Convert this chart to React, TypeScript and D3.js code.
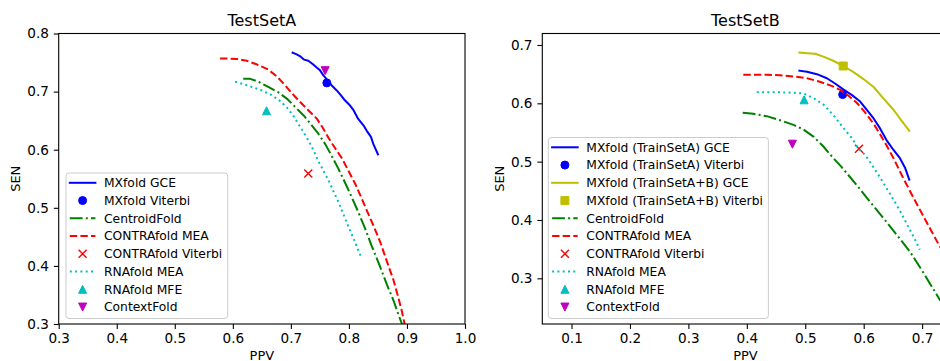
import React, { useEffect, useRef } from 'react';
import * as d3 from 'd3';

type Pt = [number, number];

// ---- TestSetA (PPV, SEN) ----
const aMxfoldGce: Pt[] = [
  [0.703, 0.767], [0.710, 0.764], [0.717, 0.760], [0.723, 0.755], [0.730, 0.753],
  [0.738, 0.747], [0.745, 0.741], [0.750, 0.737], [0.756, 0.728], [0.762, 0.721],
  [0.770, 0.711], [0.779, 0.702], [0.786, 0.694], [0.793, 0.685], [0.802, 0.676],
  [0.808, 0.668], [0.816, 0.653], [0.825, 0.642], [0.831, 0.632], [0.838, 0.622],
  [0.842, 0.610], [0.850, 0.592],
];
const aMxfoldViterbi: Pt[] = [[0.762, 0.715]];
const aCentroidFold: Pt[] = [
  [0.618, 0.722], [0.630, 0.722], [0.644, 0.717], [0.661, 0.708], [0.678, 0.699],
  [0.693, 0.688], [0.707, 0.674], [0.722, 0.659], [0.736, 0.642], [0.747, 0.628],
  [0.759, 0.610], [0.770, 0.590], [0.782, 0.567], [0.793, 0.544], [0.805, 0.518],
  [0.816, 0.493], [0.828, 0.464], [0.839, 0.435], [0.854, 0.398], [0.865, 0.369],
  [0.877, 0.340], [0.885, 0.317], [0.891, 0.301], [0.893, 0.295],
];
const aContraMea: Pt[] = [
  [0.578, 0.757], [0.589, 0.757], [0.607, 0.756], [0.624, 0.753], [0.641, 0.747],
  [0.661, 0.738], [0.676, 0.726], [0.690, 0.711], [0.701, 0.698], [0.716, 0.682],
  [0.730, 0.668], [0.745, 0.653], [0.756, 0.636], [0.765, 0.620], [0.776, 0.603],
  [0.788, 0.585], [0.799, 0.564], [0.811, 0.541], [0.822, 0.516], [0.831, 0.495],
  [0.842, 0.470], [0.854, 0.441], [0.865, 0.409], [0.877, 0.375], [0.885, 0.346],
  [0.891, 0.323], [0.896, 0.300], [0.898, 0.294],
];
const aContraViterbi: Pt[] = [[0.730, 0.559]];
const aRnafoldMea: Pt[] = [
  [0.604, 0.717], [0.618, 0.713], [0.633, 0.708], [0.650, 0.702], [0.667, 0.694],
  [0.681, 0.684], [0.693, 0.673], [0.704, 0.659], [0.713, 0.644], [0.722, 0.630],
  [0.730, 0.616], [0.739, 0.599], [0.747, 0.581], [0.756, 0.564], [0.765, 0.547],
  [0.773, 0.529], [0.782, 0.510], [0.790, 0.490], [0.799, 0.468], [0.808, 0.447],
  [0.814, 0.432], [0.822, 0.413],
];
const aRnafoldMfe: Pt[] = [[0.658, 0.667]];
const aContextFold: Pt[] = [[0.759, 0.736]];

// ---- TestSetB (PPV, SEN) ----
const bMxfoldAGce: Pt[] = [
  [0.490, 0.656], [0.503, 0.654], [0.520, 0.650], [0.537, 0.643], [0.551, 0.634],
  [0.565, 0.624], [0.580, 0.614], [0.594, 0.603], [0.605, 0.589], [0.617, 0.574],
  [0.628, 0.557], [0.639, 0.537], [0.651, 0.520], [0.662, 0.506], [0.671, 0.489],
  [0.678, 0.469],
];
const bMxfoldAViterbi: Pt[] = [[0.564, 0.615]];
const bMxfoldABGce: Pt[] = [
  [0.490, 0.687], [0.503, 0.686], [0.517, 0.685], [0.531, 0.680], [0.548, 0.673],
  [0.565, 0.664], [0.582, 0.654], [0.599, 0.642], [0.617, 0.628], [0.634, 0.608],
  [0.651, 0.589], [0.665, 0.570], [0.678, 0.553],
];
const bMxfoldABViterbi: Pt[] = [[0.565, 0.664]];
const bCentroidFold: Pt[] = [
  [0.393, 0.584], [0.411, 0.582], [0.434, 0.578], [0.457, 0.571], [0.480, 0.563],
  [0.497, 0.555], [0.514, 0.543], [0.531, 0.526], [0.548, 0.506], [0.562, 0.491],
  [0.588, 0.460], [0.611, 0.431], [0.634, 0.403], [0.657, 0.374], [0.679, 0.346],
  [0.702, 0.310], [0.714, 0.290], [0.731, 0.262],
];
const bContraMea: Pt[] = [
  [0.394, 0.649], [0.411, 0.649], [0.434, 0.649], [0.457, 0.648], [0.480, 0.646],
  [0.503, 0.643], [0.525, 0.637], [0.545, 0.630], [0.560, 0.623], [0.574, 0.613],
  [0.588, 0.601], [0.602, 0.585], [0.617, 0.565], [0.628, 0.547], [0.639, 0.528],
  [0.651, 0.506], [0.668, 0.471], [0.690, 0.429], [0.710, 0.392], [0.731, 0.353],
];
const bContraViterbi: Pt[] = [[0.592, 0.522]];
const bRnafoldMea: Pt[] = [
  [0.417, 0.619], [0.434, 0.619], [0.457, 0.619], [0.480, 0.618], [0.497, 0.617],
  [0.514, 0.609], [0.531, 0.598], [0.548, 0.580], [0.565, 0.558], [0.580, 0.540],
  [0.591, 0.522], [0.602, 0.512], [0.611, 0.499], [0.628, 0.473], [0.645, 0.445],
  [0.662, 0.416], [0.676, 0.389], [0.688, 0.366], [0.696, 0.349],
];
const bRnafoldMfe: Pt[] = [[0.498, 0.606]];
const bContextFold: Pt[] = [[0.478, 0.530]];

const aXTicks = [0.3, 0.4, 0.5, 0.6, 0.7, 0.8, 0.9, 1.0];
const aYTicks = [0.3, 0.4, 0.5, 0.6, 0.7, 0.8];
const bXTicks = [0.1, 0.2, 0.3, 0.4, 0.5, 0.6, 0.7];
const bYTicks = [0.3, 0.4, 0.5, 0.6, 0.7];

const FONT = '"DejaVu Sans", sans-serif';
const BLUE = '#0000ff', GREEN = '#008000', RED = '#ff0000';
const CYAN = '#00bfbf', MAGENTA = '#bf00bf', OLIVE = '#bfbf00';
const DASH: Record<string, string | null> = {
  solid: null,
  dashed: '7.4,3.2',
  dashdot: '12.8,3.2,2,3.2',
  dotted: '2,3.3',
};

const seriesA = [
  { label: 'MXfold GCE', data: aMxfoldGce, color: BLUE, dash: 'solid' },
  { label: 'MXfold Viterbi', data: aMxfoldViterbi, color: BLUE, marker: 'o' },
  { label: 'CentroidFold', data: aCentroidFold, color: GREEN, dash: 'dashdot' },
  { label: 'CONTRAfold MEA', data: aContraMea, color: RED, dash: 'dashed' },
  { label: 'CONTRAfold Viterbi', data: aContraViterbi, color: RED, marker: 'x' },
  { label: 'RNAfold MEA', data: aRnafoldMea, color: CYAN, dash: 'dotted' },
  { label: 'RNAfold MFE', data: aRnafoldMfe, color: CYAN, marker: '^' },
  { label: 'ContextFold', data: aContextFold, color: MAGENTA, marker: 'v' },
];

const seriesB = [
  { label: 'MXfold (TrainSetA) GCE', data: bMxfoldAGce, color: BLUE, dash: 'solid' },
  { label: 'MXfold (TrainSetA) Viterbi', data: bMxfoldAViterbi, color: BLUE, marker: 'o' },
  { label: 'MXfold (TrainSetA+B) GCE', data: bMxfoldABGce, color: OLIVE, dash: 'solid' },
  { label: 'MXfold (TrainSetA+B) Viterbi', data: bMxfoldABViterbi, color: OLIVE, marker: 's' },
  { label: 'CentroidFold', data: bCentroidFold, color: GREEN, dash: 'dashdot' },
  { label: 'CONTRAfold MEA', data: bContraMea, color: RED, dash: 'dashed' },
  { label: 'CONTRAfold Viterbi', data: bContraViterbi, color: RED, marker: 'x' },
  { label: 'RNAfold MEA', data: bRnafoldMea, color: CYAN, dash: 'dotted' },
  { label: 'RNAfold MFE', data: bRnafoldMfe, color: CYAN, marker: '^' },
  { label: 'ContextFold', data: bContextFold, color: MAGENTA, marker: 'v' },
];

const panels = [
  {
    id: 'a', title: 'TestSetA', left: 58.7, top: 33.5, width: 406.3, height: 290.5,
    xDomain: [0.3, 1.0], yDomain: [0.3, 0.8], xTicks: aXTicks, yTicks: aYTicks,
    series: seriesA, legend: { x: 66, y: 173 },
  },
  {
    id: 'b', title: 'TestSetB', left: 542.3, top: 33.5, width: 406.3, height: 290.5,
    xDomain: [0.05, 0.7453], yDomain: [0.2217, 0.7197], xTicks: bXTicks, yTicks: bYTicks,
    series: seriesB, legend: { x: 548.3, y: 137.5 },
  },
];

const MS = 8; // marker size, px
const markerPath = (m: string) => {
  const h = MS / 2;
  switch (m) {
    case 'o': return d3.symbol(d3.symbolCircle, Math.PI * h * h)();
    case 's': return d3.symbol(d3.symbolSquare, MS * MS)();
    case '^': return `M0,${-h}L${h},${h}L${-h},${h}Z`;
    case 'v': return `M0,${h}L${h},${-h}L${-h},${-h}Z`;
    default: return `M${-h},${-h}L${h},${h}M${-h},${h}L${h},${-h}`;
  }
};

const drawMarker = (sel, s, tx, ty) => {
  const isX = s.marker === 'x';
  sel.append('path')
    .attr('transform', `translate(${tx},${ty})`)
    .attr('d', markerPath(s.marker))
    .attr('fill', isX ? 'none' : s.color)
    .attr('stroke', s.color)
    .attr('stroke-width', isX ? 1.4 : 1);
};

const styleLine = (sel, s) => {
  sel.attr('fill', 'none')
    .attr('stroke', s.color)
    .attr('stroke-width', 2)
    .attr('stroke-linejoin', 'round')
    .attr('stroke-linecap', s.dash === 'solid' ? 'square' : 'butt')
    .attr('stroke-dasharray', DASH[s.dash]);
};

function drawPanel(root, p) {
  const x = d3.scaleLinear().domain(p.xDomain).range([p.left, p.left + p.width]);
  const y = d3.scaleLinear().domain(p.yDomain).range([p.top + p.height, p.top]);
  const g = root.append('g');

  g.append('clipPath').attr('id', `clip-${p.id}`)
    .append('rect')
    .attr('x', p.left).attr('y', p.top).attr('width', p.width).attr('height', p.height);

  const plot = g.append('g').attr('clip-path', `url(#clip-${p.id})`);
  const line = d3.line<Pt>().x((d) => x(d[0])).y((d) => y(d[1]));

  p.series.forEach((s) => {
    if (s.marker) {
      s.data.forEach((d) => drawMarker(plot, s, x(d[0]), y(d[1])));
    } else {
      plot.append('path').datum(s.data).attr('d', line).call(styleLine, s);
    }
  });

  // axes
  const fmt = d3.format('.1f');
  const xAxis = g.append('g')
    .attr('transform', `translate(0,${p.top + p.height})`)
    .call(d3.axisBottom(x).tickValues(p.xTicks).tickFormat(fmt).tickSize(4.9).tickPadding(4.9).tickSizeOuter(0));
  const yAxis = g.append('g')
    .attr('transform', `translate(${p.left},0)`)
    .call(d3.axisLeft(y).tickValues(p.yTicks).tickFormat(fmt).tickSize(4.9).tickPadding(4.9).tickSizeOuter(0));
  [xAxis, yAxis].forEach((a) => {
    a.select('.domain').remove();
    a.attr('font-family', FONT).attr('font-size', 13.6);
    a.selectAll('line').attr('stroke', '#000').attr('stroke-width', 1.1);
    a.selectAll('text').attr('fill', '#000');
  });

  g.append('rect')
    .attr('x', p.left).attr('y', p.top).attr('width', p.width).attr('height', p.height)
    .attr('fill', 'none').attr('stroke', '#000').attr('stroke-width', 1.1);

  // titles and labels
  const cx = p.left + p.width / 2;
  g.append('text').attr('x', cx).attr('y', 26).attr('text-anchor', 'middle')
    .attr('font-family', FONT).attr('font-size', 16).text(p.title);
  g.append('text').attr('x', cx).attr('y', 359.5).attr('text-anchor', 'middle')
    .attr('font-family', FONT).attr('font-size', 13).text('PPV');
  g.append('text')
    .attr('transform', `translate(${p.left - 43},${p.top + p.height / 2}) rotate(-90)`)
    .attr('text-anchor', 'middle').attr('dy', '0.36em')
    .attr('font-family', FONT).attr('font-size', 13).text('SEN');

  // legend
  const row = 17.75;
  const lg = g.append('g');
  const box = lg.append('rect')
    .attr('x', p.legend.x).attr('y', p.legend.y)
    .attr('height', p.series.length * row + 3.5)
    .attr('rx', 3)
    .attr('fill', '#fff').attr('fill-opacity', 0.8)
    .attr('stroke', '#cccccc').attr('stroke-width', 1);
  const hx0 = p.legend.x + 3.8;
  const hx1 = hx0 + 25.6;
  let maxW = 0;
  p.series.forEach((s, i) => {
    const cy = p.legend.y + 9.8 + i * row;
    if (s.marker) {
      drawMarker(lg, s, (hx0 + hx1) / 2, cy);
    } else {
      lg.append('line').attr('x1', hx0).attr('x2', hx1).attr('y1', cy).attr('y2', cy).call(styleLine, s);
    }
    const t = lg.append('text')
      .attr('x', hx1 + 8.6).attr('y', cy).attr('dy', '0.36em')
      .attr('font-family', FONT).attr('font-size', 12.3).attr('fill', '#000')
      .text(s.label);
    maxW = Math.max(maxW, t.node().getComputedTextLength());
  });
  box.attr('width', hx1 + 8.6 + maxW + 5.5 - p.legend.x);
}

const App = () => {
  const ref = useRef<SVGSVGElement>(null);

  useEffect(() => {
    const svg = d3.select(ref.current);
    svg.selectAll('*').remove();
    panels.forEach((p) => drawPanel(svg, p));
  }, []);

  return (
    <svg
      ref={ref}
      width={940}
      height={361}
      style={{ position: 'absolute', left: 0, top: 0, background: '#fff' }}
    />
  );
};

export default App;
